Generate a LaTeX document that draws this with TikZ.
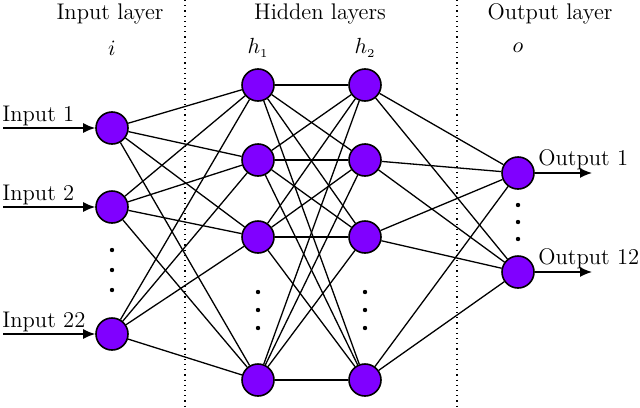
\documentclass[tikz,border=0pt]{standalone}
\usetikzlibrary{arrows.meta}
\begin{document}
\begin{tikzpicture}[x=0.5pt,y=-0.5pt,font=\fontsize{11.3}{13}\selectfont,
  neuron/.style={circle,draw,line width=0.8pt,fill={rgb,255:red,128;green,0;blue,255},minimum size=16pt,inner sep=0pt},
  conn/.style={line width=0.65pt},
  io/.style={-{Latex[length=6pt,width=5pt]},line width=0.7pt},
  lab/.style={inner sep=0pt,anchor=base west},
  dot/.style={circle,fill,inner sep=0pt,minimum size=2.2pt}]
\useasboundingbox (0,0) rectangle (640,407);
\draw[dotted,line width=0.6pt] (185,0) -- (185,407) (457,0) -- (457,407);
\node (t1) at (110,14) {Input layer};
\node (t2) at (320,14) {Hidden layers};
\node (t3) at (550,14) {Output layer};
\node (li) at (112,48) {$i$};
\node (lh1) at (258,48) {$h_{\scriptscriptstyle 1}$};
\node (lh2) at (365,48) {$h_{\scriptscriptstyle 2}$};
\node (lo) at (518,48) {$o$};
\foreach \n/\y in {1/128,2/207,3/334} \node[neuron] (i\n) at (112,\y) {};
\foreach \n/\y in {1/85,2/160,3/237,4/380} {
  \node[neuron] (a\n) at (258,\y) {};
  \node[neuron] (b\n) at (365,\y) {};}
\foreach \n/\y in {1/173,2/272} \node[neuron] (o\n) at (518,\y) {};
\foreach \i in {1,2,3} \foreach \j in {1,2,3,4} \draw[conn] (i\i) -- (a\j);
\foreach \i in {1,2,3,4} \foreach \j in {1,2,3,4} \draw[conn] (a\i) -- (b\j);
\foreach \i in {1,2,3,4} \foreach \j in {1,2} \draw[conn] (b\i) -- (o\j);
\foreach \y in {250,270,290} \node[dot] (di\y) at (112,\y) {};
\foreach \y in {292,310,328} {\node[dot] (da\y) at (258,\y) {}; \node[dot] (db\y) at (365,\y) {};}
\foreach \y in {205,222,239} \node[dot] (do\y) at (518,\y) {};
\coordinate (s1) at (3,128); \coordinate (s2) at (3,207); \coordinate (s3) at (3,334);
\draw[io] (s1) -- (i1); \draw[io] (s2) -- (i2); \draw[io] (s3) -- (i3);
\node[lab] (n1) at (2,121) {Input 1};
\node[lab] (n2) at (2,200) {Input 2};
\node[lab] (n3) at (2,327) {Input 22};
\coordinate (e1) at (592,173); \coordinate (e2) at (592,272);
\draw[io] (o1) -- (e1); \draw[io] (o2) -- (e2);
\node[lab] (m1) at (538,165) {Output 1};
\node[lab] (m2) at (538,264) {Output 12};
\end{tikzpicture}
\end{document}
